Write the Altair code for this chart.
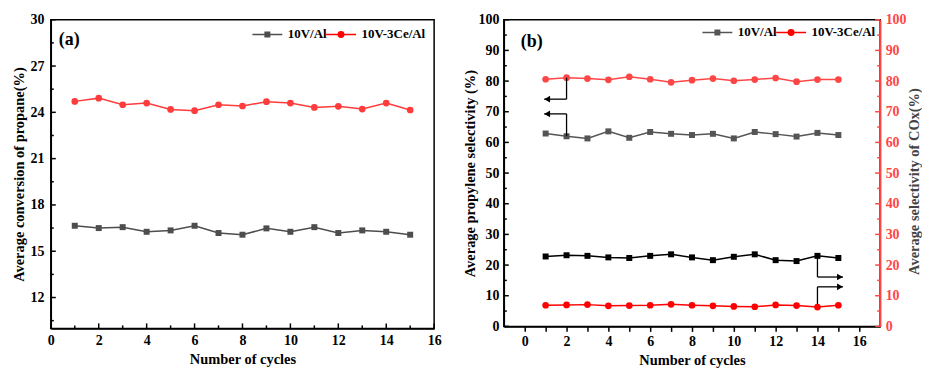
import altair as alt
import pandas as pd

# ---------------- data ----------------
cycles = list(range(1, 16))
series_names = ["10V/Al", "10V-3Ce/Al"]
panel_labels = ["(a)", "(b)"]

# (a) average conversion of propane (%)
conv_10V_Al = [16.65, 16.50, 16.56, 16.26, 16.35, 16.65, 16.18, 16.07, 16.48, 16.26, 16.56, 16.18, 16.35, 16.26, 16.07]
conv_10V_3Ce_Al = [24.71, 24.92, 24.49, 24.60, 24.19, 24.11, 24.49, 24.41, 24.69, 24.60, 24.32, 24.39, 24.21, 24.60, 24.15]

# (b) average propylene selectivity (%) -- left axis
prop_10V_Al = [62.9, 62.0, 61.3, 63.6, 61.5, 63.4, 62.8, 62.4, 62.8, 61.3, 63.4, 62.7, 61.9, 63.1, 62.4]
prop_10V_3Ce_Al = [80.6, 81.1, 80.8, 80.4, 81.4, 80.6, 79.6, 80.3, 80.8, 80.1, 80.5, 81.0, 79.8, 80.5, 80.5]
# (b) average selectivity of COx (%) -- right axis
cox_10V_Al = [22.8, 23.2, 23.0, 22.5, 22.3, 23.0, 23.5, 22.5, 21.6, 22.7, 23.5, 21.6, 21.3, 23.0, 22.3]
cox_10V_3Ce_Al = [6.9, 7.0, 7.1, 6.7, 6.8, 6.9, 7.2, 6.9, 6.7, 6.5, 6.4, 7.0, 6.8, 6.3, 6.9]

# axis ticks
a_x_major = [0, 2, 4, 6, 8, 10, 12, 14, 16]
a_x_minor = [1, 3, 5, 7, 9, 11, 13, 15]
a_y_major = [12, 15, 18, 21, 24, 27, 30]
a_y_minor = [10.5, 13.5, 16.5, 19.5, 22.5, 25.5, 28.5]
b_x_ticks = list(range(0, 17))
b_y_major = [0, 10, 20, 30, 40, 50, 60, 70, 80, 90, 100]
b_y_minor = [5, 15, 25, 35, 45, 55, 65, 75, 85, 95]

# arrows in (b)
arrow_x_start = [2, 2, 14, 14]
arrow_y_start = [81.1, 62.0, 23.0, 6.3]
arrow_y_turn = [74.1, 69.3, 16.1, 12.9]
arrow_x_tip = [0.93, 0.93, 15.22, 15.22]
arrow_dir = ["left", "left", "right", "right"]

# ---------------- style ----------------
FONT = "Liberation Serif"
GRAY = "#4d4d4d"
GRAY_B = "#555555"
RED = "#ff3b3b"
RED_B = "#ff4646"
PURE_RED = "#ff0000"
SQ_PATH = "M-3,0H3M-0.45,-0.45H0.45V0.45H-0.45Z"
CI_PATH = "M-3,0H3M0.55,0A0.55,0.55,0,1,1,-0.55,0A0.55,0.55,0,1,1,0.55,0Z"

W_A, H_A = 385, 310
W_B, H_B = 378, 308


def legend_layer(colors, lx, ly):
    leg = alt.Legend(orient="none", legendX=lx, legendY=ly, direction="horizontal", columns=2,
                     title=None, labelFont=FONT, labelFontSize=13, labelFontWeight="bold",
                     labelColor="black", symbolSize=100, symbolStrokeWidth=1.5,
                     labelOffset=14, columnPadding=-4, padding=0, symbolOpacity=1)
    df = pd.DataFrame({"series": series_names})
    return alt.Chart(df).transform_filter("false").mark_point(filled=True, opacity=1).encode(
        fill=alt.Fill("series:N", scale=alt.Scale(domain=series_names, range=colors), legend=leg),
        stroke=alt.Stroke("series:N", scale=alt.Scale(domain=series_names, range=colors), legend=leg),
        shape=alt.Shape("series:N", scale=alt.Scale(domain=series_names, range=[SQ_PATH, CI_PATH]), legend=leg),
    )


def yticks(values, length, scale, axis, side, width, color="black"):
    df = pd.DataFrame({"v": values})
    if side == "left":
        xe = dict(x=alt.value(0), x2=alt.value(length))
    else:
        xe = dict(x=alt.value(width), x2=alt.value(width - length))
    return alt.Chart(df).mark_rule(color=color, strokeWidth=1.5).encode(
        y=alt.Y("v:Q", scale=scale, axis=axis), **xe)


def xticks_in(values, length, scale, axis, height):
    df = pd.DataFrame({"v": values})
    return alt.Chart(df).mark_rule(color="black", strokeWidth=1.5).encode(
        x=alt.X("v:Q", scale=scale, axis=axis), y=alt.value(height), y2=alt.value(height - length))


def series(df, field, xs, ys, color, shape, size, xaxis, yaxis):
    x = alt.X("cycle:Q", scale=xs, axis=xaxis)
    y = alt.Y(f"{field}:Q", scale=ys, axis=yaxis)
    line = alt.Chart(df).mark_line(color=color, strokeWidth=1.5).encode(x=x, y=y)
    pts = alt.Chart(df).mark_point(shape=shape, filled=True, size=size, opacity=1, color=color).encode(x=x, y=y)
    return [line, pts]


def panel_label(text, px, py):
    return alt.Chart(pd.DataFrame({"t": [text]})).mark_text(
        font=FONT, fontSize=18, fontWeight="bold", align="left", baseline="middle", color="black"
    ).encode(text="t:N", x=alt.value(px), y=alt.value(py))


# ---------------- panel (a) ----------------
df_a = pd.DataFrame({"cycle": cycles, "al": conv_10V_Al, "ce": conv_10V_3Ce_Al})
xs_a = alt.Scale(domain=[0, 16], nice=False, zero=False)
ys_a = alt.Scale(domain=[10, 30], nice=False, zero=False)
xaxis_a = alt.Axis(values=a_x_major, tickSize=0, labelPadding=5, title="Number of cycles", titlePadding=5, format="d")
yaxis_a = alt.Axis(values=a_y_major, tickSize=0, labelPadding=7, title="Average conversion of propane(%)", titlePadding=3, format="d")

layers_a = []
layers_a += series(df_a, "al", xs_a, ys_a, GRAY, "square", 36, xaxis_a, yaxis_a)
layers_a += series(df_a, "ce", xs_a, ys_a, RED, "circle", 45, xaxis_a, yaxis_a)
layers_a += [
    yticks(a_y_major, 5, ys_a, yaxis_a, "left", W_A),
    yticks(a_y_minor, 3, ys_a, yaxis_a, "left", W_A),
    xticks_in(a_x_major, 5, xs_a, xaxis_a, H_A),
    xticks_in(a_x_minor, 3, xs_a, xaxis_a, H_A),
    panel_label(panel_labels[0], 8, 20),
    legend_layer([GRAY, PURE_RED], 211, 8),
]
panel_a = alt.layer(*layers_a).properties(width=W_A, height=H_A)

# ---------------- panel (b) ----------------
df_b = pd.DataFrame({"cycle": cycles, "p_al": prop_10V_Al, "p_ce": prop_10V_3Ce_Al,
                     "c_al": cox_10V_Al, "c_ce": cox_10V_3Ce_Al})
xs_b = alt.Scale(domain=[-1, 17], nice=False, zero=False)
ys_l = alt.Scale(domain=[0, 100], nice=False)
ys_r = alt.Scale(domain=[0, 100], nice=False)
xaxis_b = alt.Axis(values=b_x_ticks, tickSize=5, labelPadding=3, title="Number of cycles", titlePadding=5,
                   labelExpr="datum.value % 2 === 0 ? datum.label : ''", format="d")
yaxis_l = alt.Axis(values=b_y_major, tickSize=0, labelPadding=5, title="Average propylene selectivity (%)",
                   titlePadding=0, format="d")
yaxis_r = alt.Axis(orient="right", values=b_y_major, tickSize=0, labelPadding=5, format="d",
                   title="Average selectivity of COx(%)", titleAngle=270, titleBaseline="top",
                   titlePadding=1, titleY=H_B / 2 + 8,
                   domainColor=RED_B, labelColor=RED_B, titleColor="#444444", zindex=1)

df_arr = pd.DataFrame({"xs": arrow_x_start, "ys": arrow_y_start, "yt": arrow_y_turn,
                       "xt": arrow_x_tip, "dir": arrow_dir})
arr_v = alt.Chart(df_arr).mark_rule(color="black", strokeWidth=1.3).encode(
    x=alt.X("xs:Q", scale=xs_b, axis=xaxis_b), y=alt.Y("ys:Q", scale=ys_l, axis=yaxis_l), y2="yt:Q")
arr_h = alt.Chart(df_arr).mark_rule(color="black", strokeWidth=1.3).encode(
    x=alt.X("xs:Q", scale=xs_b, axis=xaxis_b), x2="xt:Q", y=alt.Y("yt:Q", scale=ys_l, axis=yaxis_l))
head_l = alt.Chart(df_arr).transform_filter("datum.dir === 'left'").mark_point(
    shape="triangle-left", filled=True, size=45, opacity=1, color="black", xOffset=3).encode(
    x=alt.X("xt:Q", scale=xs_b, axis=xaxis_b), y=alt.Y("yt:Q", scale=ys_l, axis=yaxis_l))
head_r = alt.Chart(df_arr).transform_filter("datum.dir === 'right'").mark_point(
    shape="triangle-right", filled=True, size=45, opacity=1, color="black", xOffset=-3).encode(
    x=alt.X("xt:Q", scale=xs_b, axis=xaxis_b), y=alt.Y("yt:Q", scale=ys_l, axis=yaxis_l))

left_layers = []
left_layers += series(df_b, "p_ce", xs_b, ys_l, RED_B, "circle", 45, xaxis_b, yaxis_l)
left_layers += series(df_b, "p_al", xs_b, ys_l, GRAY_B, "square", 36, xaxis_b, yaxis_l)
left_layers += [
    yticks(b_y_major, 5, ys_l, yaxis_l, "left", W_B),
    yticks(b_y_minor, 3, ys_l, yaxis_l, "left", W_B),
    arr_v, arr_h, head_l, head_r,
    panel_label(panel_labels[1], 17, 22),
    legend_layer([GRAY_B, PURE_RED], 208, 6),
]
right_layers = []
right_layers += series(df_b, "c_al", xs_b, ys_r, "black", "square", 36, xaxis_b, yaxis_r)
right_layers += series(df_b, "c_ce", xs_b, ys_r, PURE_RED, "circle", 45, xaxis_b, yaxis_r)
right_layers += [
    yticks(b_y_major, 5, ys_r, yaxis_r, "right", W_B, RED_B),
    yticks(b_y_minor, 3, ys_r, yaxis_r, "right", W_B, RED_B),
]
panel_b = alt.layer(alt.layer(*left_layers), alt.layer(*right_layers)).resolve_scale(
    y="independent").properties(width=W_B, height=H_B)

chart = alt.hconcat(panel_a, panel_b, spacing=20).resolve_scale(
    fill="independent", stroke="independent", shape="independent"
).properties(padding={"left": 3, "top": 3, "right": 0, "bottom": 0}).configure_axis(
    labelFont=FONT, titleFont=FONT, labelFontWeight="bold", titleFontWeight="bold",
    labelFontSize=14, titleFontSize=14.5, labelColor="black", titleColor="black",
    grid=False, domainColor="black", domainWidth=1.5, tickColor="black", tickWidth=1.5,
    labelFlush=False, labelOverlap=False
).configure_view(stroke="black", strokeWidth=1.5)

chart.save("out.html", embed_options={"renderer": "svg", "actions": False})
